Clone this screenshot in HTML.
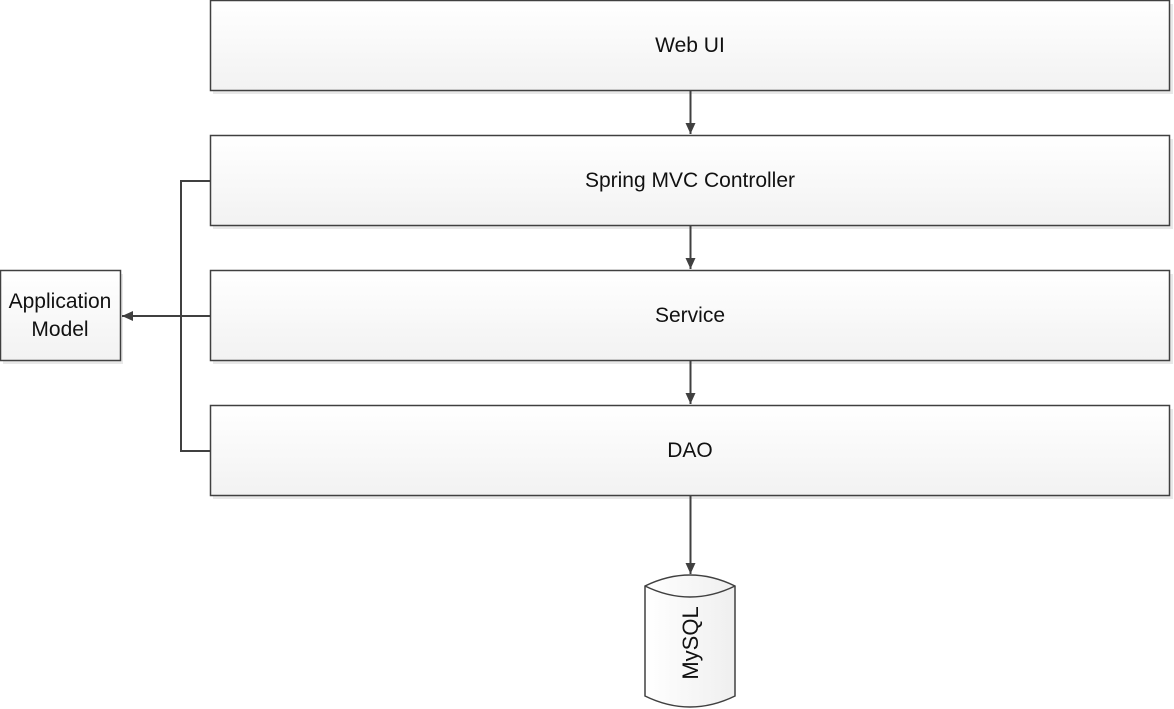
<!DOCTYPE html>
<html><head><meta charset="utf-8"><style>
html,body{margin:0;padding:0;background:#fff;}
svg{display:block;}
text{font-family:"Liberation Sans",sans-serif;font-size:21px;fill:#111;}
</style></head><body>
<svg width="1174" height="709" viewBox="0 0 1174 709" xmlns="http://www.w3.org/2000/svg">
<defs>
<linearGradient id="g" x1="0" y1="0" x2="0" y2="1">
<stop offset="0" stop-color="#ffffff"/><stop offset="1" stop-color="#f2f2f2"/>
</linearGradient>
<linearGradient id="c" x1="0" y1="0" x2="1" y2="0">
<stop offset="0" stop-color="#ffffff"/><stop offset="1" stop-color="#efefef"/>
</linearGradient>
<marker id="a" markerWidth="12" markerHeight="12" refX="11" refY="6" orient="auto" markerUnits="userSpaceOnUse">
<path d="M0,1 L11,6 L0,11 Z" fill="#404040"/>
</marker>
</defs>
<g fill="#e8e8e8">
<rect x="213" y="4" width="960" height="90"/>
<rect x="213" y="139" width="960" height="90"/>
<rect x="213" y="274" width="960" height="90"/>
<rect x="213" y="409" width="960" height="90"/>
<rect x="3" y="274" width="120" height="90"/>
</g>
<g fill="url(#g)" stroke="#404040" stroke-width="1.5">
<rect x="210.5" y="0.5" width="959" height="90"/>
<rect x="210.5" y="135.5" width="959" height="90"/>
<rect x="210.5" y="270.5" width="959" height="90"/>
<rect x="210.5" y="405.5" width="959" height="90"/>
<rect x="0.5" y="270.5" width="120" height="90"/>
</g>
<text x="690" y="52" text-anchor="middle">Web UI</text>
<text x="690" y="187" text-anchor="middle">Spring MVC Controller</text>
<text x="690" y="322" text-anchor="middle">Service</text>
<text x="690" y="457" text-anchor="middle">DAO</text>
<text x="60" y="308" text-anchor="middle">Application</text>
<text x="60" y="336" text-anchor="middle">Model</text>
<g stroke="#404040" stroke-width="2" fill="none">
<line x1="690.5" y1="91" x2="690.5" y2="134" marker-end="url(#a)"/>
<line x1="690.5" y1="226" x2="690.5" y2="269" marker-end="url(#a)"/>
<line x1="690.5" y1="361" x2="690.5" y2="404" marker-end="url(#a)"/>
<line x1="690.5" y1="496" x2="690.5" y2="574" marker-end="url(#a)"/>
<polyline points="210,181 181,181 181,451 210,451"/>
<line x1="210" y1="316" x2="122" y2="316" marker-end="url(#a)"/>
</g>
<path d="M645,586 Q690,564 735,586 L735,696 Q690,718 645,696 Z" fill="url(#c)" stroke="#404040" stroke-width="1.5"/>
<path d="M645,586 Q690,608 735,586" fill="none" stroke="#404040" stroke-width="1.5"/>
<text transform="translate(698,643) rotate(-90)" text-anchor="middle" style="font-size:22px">MySQL</text>
</svg>
</body></html>
